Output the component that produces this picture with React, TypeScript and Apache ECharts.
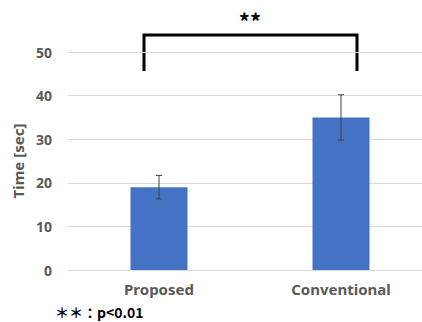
import React, { useEffect, useRef } from "react";
import * as echarts from "echarts";

const categories = ["Proposed", "Conventional"];
const means = [19, 35];
const errors = [2.7, 5.2];
const yTicks = { min: 0, max: 50, interval: 10 };

export default function App() {
  const ref = useRef<HTMLDivElement>(null);
  useEffect(() => {
    document.body.style.margin = "0";
    const chart = echarts.init(ref.current!, null, { renderer: "svg" });
    const errData = means.map((m, i) => [i, m - errors[i], m + errors[i]]);
    chart.setOption({
      animation: false,
      backgroundColor: "#ffffff",
      grid: { left: 68, right: 0, top: 52, bottom: 52 },
      xAxis: {
        type: "category",
        data: categories,
        axisLine: { lineStyle: { color: "#d9d9d9" } },
        axisTick: { show: false },
        axisLabel: {
          color: "#595959",
          fontSize: 15,
          fontWeight: "bold",
          fontFamily: "Noto Sans",
          margin: 11,
        },
      },
      yAxis: {
        type: "value",
        min: yTicks.min,
        max: yTicks.max,
        interval: yTicks.interval,
        name: "Time [sec]",
        nameLocation: "middle",
        nameGap: 42,
        nameTextStyle: {
          color: "#595959",
          fontSize: 15,
          fontWeight: "bold",
          fontFamily: "Noto Sans",
        },
        axisLine: { show: false },
        axisTick: { show: false },
        splitLine: { lineStyle: { color: "#d9d9d9", width: 1 } },
        axisLabel: {
          color: "#595959",
          fontSize: 14,
          fontWeight: "bold",
          fontFamily: "Noto Sans",
          margin: 16,
        },
      },
      series: [
        {
          type: "bar",
          data: means,
          barWidth: 57,
          itemStyle: { color: "#4472c4" },
        },
        {
          type: "custom",
          data: errData,
          z: 10,
          renderItem: (params: any, api: any) => {
            const x = api.value(0);
            const lo = api.coord([x, api.value(1)]);
            const hi = api.coord([x, api.value(2)]);
            const cap = 3;
            const style = { stroke: "#404040", lineWidth: 1 };
            return {
              type: "group",
              children: [
                { type: "line", shape: { x1: lo[0], y1: lo[1], x2: hi[0], y2: hi[1] }, style },
                { type: "line", shape: { x1: lo[0] - cap, y1: lo[1], x2: lo[0] + cap, y2: lo[1] }, style },
                { type: "line", shape: { x1: hi[0] - cap, y1: hi[1], x2: hi[0] + cap, y2: hi[1] }, style },
              ],
            };
          },
        },
      ],
      graphic: [
        {
          type: "polyline",
          shape: { points: [[144, 71], [144, 35], [357, 35], [357, 71]] },
          style: { stroke: "#000000", lineWidth: 3, fill: null },
        },
        {
          type: "text",
          x: 250,
          y: 20,
          style: {
            text: "**",
            fill: "#000000",
            font: "bold 22px 'Noto Sans CJK JP'",
            align: "center",
            verticalAlign: "middle",
          },
        },
        {
          type: "text",
          x: 55,
          y: 312,
          style: {
            text: "＊＊：p<0.01",
            fill: "#000000",
            font: "bold 14px 'Noto Sans CJK JP'",
            align: "left",
            verticalAlign: "middle",
          },
        },
      ],
    });
    return () => chart.dispose();
  }, []);
  return (
    <div style={{ width: 422, height: 322, overflow: "hidden", position: "relative" }}>
      <div ref={ref} style={{ width: 432, height: 322 }} />
    </div>
  );
}
